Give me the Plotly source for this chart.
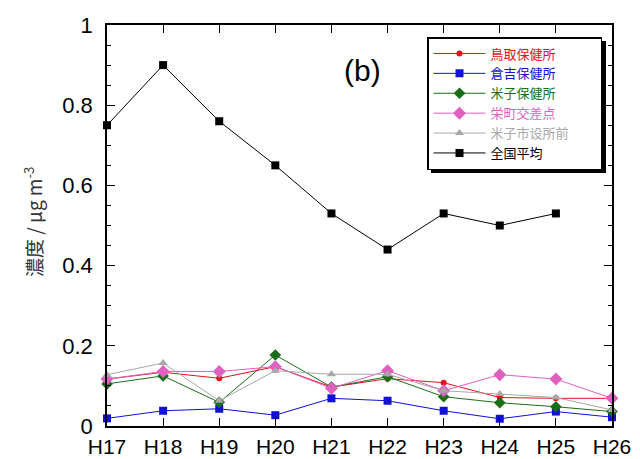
import plotly.graph_objects as go

years = ["H17", "H18", "H19", "H20", "H21", "H22", "H23", "H24", "H25", "H26"]
tottori = [0.117, 0.134, 0.119, 0.148, 0.097, 0.118, 0.108, 0.071, 0.069, 0.069]
kurayoshi = [0.019, 0.038, 0.043, 0.027, 0.069, 0.063, 0.038, 0.018, 0.036, 0.022]
yonago = [0.105, 0.125, 0.059, 0.177, 0.097, 0.123, 0.073, 0.058, 0.048, 0.036]
sakaemachi = [0.117, 0.136, 0.136, 0.148, 0.094, 0.138, 0.088, 0.128, 0.117, 0.069]
yonago_city = [0.128, 0.157, 0.063, 0.138, 0.129, 0.129, 0.088, 0.080, 0.071, 0.040]
national = [0.75, 0.90, 0.76, 0.65, 0.53, 0.44, 0.53, 0.50, 0.53, None]

names = ["鳥取保健所", "倉吉保健所", "米子保健所", "栄町交差点", "米子市设所前", "全国平均"]
series = [tottori, kurayoshi, yonago, sakaemachi, yonago_city, national]
colors = ["#e8101a", "#1010d8", "#1a6e1a", "#e060c0", "#a8a8a8", "#000000"]
symbols = ["circle", "square", "diamond", "diamond", "triangle-up", "square"]
sizes = [6, 8, 9, 10, 8, 8]

fig = go.Figure()
for nm, ys, c, s, sz in zip(names, series, colors, symbols, sizes):
    fig.add_trace(go.Scatter(
        x=years, y=ys, mode="lines+markers",
        name=f"<span style='color:{c}'>{nm}</span>" + "\u00a0" * 9,
        line=dict(color=c, width=1),
        marker=dict(symbol=s, size=sz, color=c),
        cliponaxis=False, connectgaps=False,
    ))

font_main = "Liberation Sans, Arial, sans-serif"
OFF = 8  # page body margin offset
W, H = 640 - OFF, 459 - OFF
# desired plot area on screen: x 107..612, y 25..426
L, T = 107 - OFF, 25 - OFF
R = W - (612 - OFF)
B = H - (426 - OFF)
pw, ph = W - L - R, H - T - B


def px(x):
    return (x - OFF - L) / pw


def py(y):
    return (H - B - (y - OFF)) / ph


fig.update_layout(
    width=W, height=H,
    margin=dict(l=L, r=R, t=T, b=B, autoexpand=False),
    plot_bgcolor="white", paper_bgcolor="white",
    font=dict(family=font_main, color="black", size=18),
    showlegend=True,
    legend=dict(
        x=px(427), y=py(37), xanchor="left", yanchor="top",
        bgcolor="white", bordercolor="black", borderwidth=1.5,
        font=dict(family="Noto Sans CJK JP", size=13),
        tracegroupgap=0, itemsizing="trace", itemwidth=52,
    ),
    xaxis=dict(
        type="category", range=[0, 9], showgrid=False, zeroline=False,
        showline=True, linecolor="black", linewidth=1.5, mirror="ticks",
        ticks="inside", ticklen=8, tickcolor="black", automargin=False,
        tickfont=dict(size=21, family=font_main),
        ticklabelstandoff=1,
    ),
    yaxis=dict(
        range=[0, 1], showgrid=False, zeroline=False, automargin=False,
        showline=True, linecolor="black", linewidth=1.5, mirror="ticks",
        ticks="inside", ticklen=8, tickcolor="black",
        tickvals=[0, 0.2, 0.4, 0.6, 0.8, 1.0],
        ticktext=["0", "0.2", "0.4", "0.6", "0.8", "1"],
        minor=dict(dtick=0.05, ticks="inside", ticklen=4, tickcolor="black"),
        tickfont=dict(size=22, family=font_main),
        ticklabelstandoff=8,
    ),
    annotations=[
        dict(text="(b)", x=px(362), y=py(70), xref="paper", yref="paper",
             xanchor="center", yanchor="middle",
             showarrow=False, font=dict(size=30, family=font_main, color="black")),
        dict(text="濃度 / μg m<sup>-3</sup>", x=px(33), y=py(222), xref="paper", yref="paper",
             xanchor="center", yanchor="middle",
             textangle=-90, showarrow=False,
             font=dict(size=19, family="Noto Sans CJK JP", color="#333333")),
    ],
    shapes=[dict(type="rect", xref="paper", yref="paper",
                 x0=px(431), x1=px(606), y0=py(173), y1=py(41),
                 fillcolor="black", line=dict(width=0), layer="below")],
)

fig.write_html("out.html")
